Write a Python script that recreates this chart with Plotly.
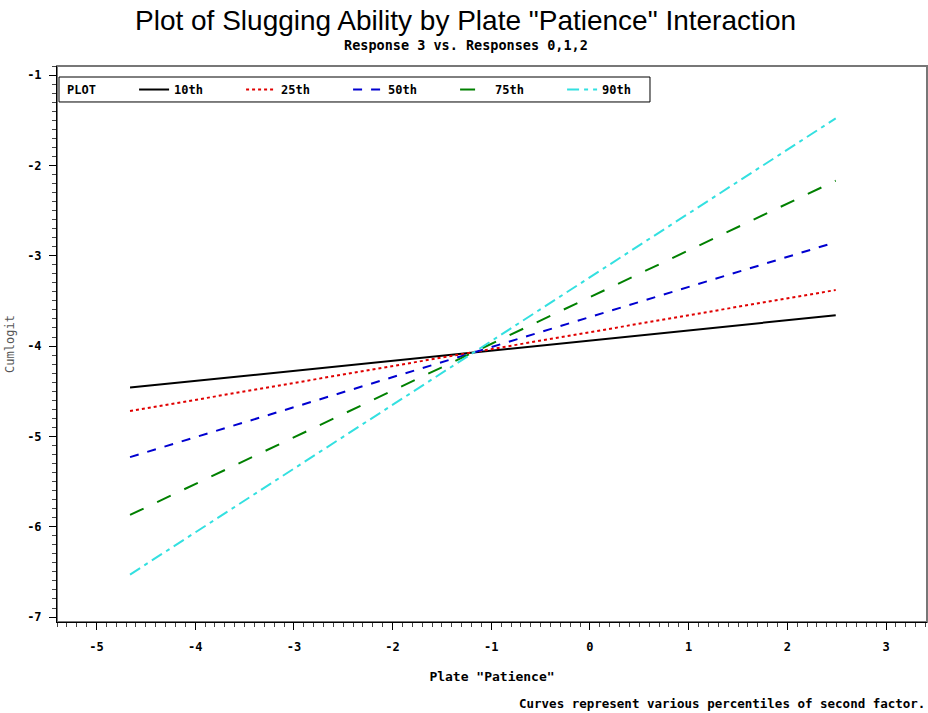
import plotly.graph_objects as go

# Data
percentiles = ["10th", "25th", "50th", "75th", "90th"]
x_ends = [-4.66, 2.49]
y_10th = [-4.46, -3.66]
y_25th = [-4.72, -3.38]
y_50th = [-5.23, -2.85]
y_75th = [-5.87, -2.17]
y_90th = [-6.53, -1.48]
series_y = [y_10th, y_25th, y_50th, y_75th, y_90th]

colors = ["#000000", "#e00000", "#0000d0", "#008000", "#33e0e0"]
dashes = ["solid", "dot", "dash", "longdash", "12px,5px,4px,5px"]

xticks = [-5, -4, -3, -2, -1, 0, 1, 2, 3]
yticks = [-1, -2, -3, -4, -5, -6, -7]

mono = "DejaVu Sans Mono"

fig = go.Figure()
for name, ys, c, d in zip(percentiles, series_y, colors, dashes):
    fig.add_trace(go.Scatter(
        x=x_ends, y=ys, mode="lines", name=f"<b>{name}</b>",
        line=dict(color=c, width=2, dash=d),
    ))

axis_common = dict(
    showgrid=False, zeroline=False, showline=True, linecolor="black", linewidth=1,
    ticks="outside", ticklen=7, tickcolor="black", automargin=False,
    tickfont=dict(family=mono, size=12, color="black"),
    minor=dict(ticks="outside", ticklen=4, dtick=0.1, tickcolor="#444"),
)

fig.update_layout(
    width=928, height=713,
    paper_bgcolor="white", plot_bgcolor="white",
    margin=dict(l=57, r=1, t=66, b=91, autoexpand=False),
    showlegend=True,
    legend=dict(
        orientation="h", x=0.0886, y=0.9577, xanchor="left", yanchor="middle",
        borderwidth=0, bgcolor="rgba(0,0,0,0)",
        font=dict(family=mono, size=12, color="black"),
        entrywidth=62, entrywidthmode="pixels",
        tracegroupgap=0,
    ),
    xaxis=dict(
        range=[-5.4, 3.415], tickvals=xticks, ticktext=[f"<b>{t}</b>" for t in xticks],
        ticklabelstandoff=7,
        title=dict(text="<b>Plate \"Patience\"</b>", font=dict(family=mono, size=13, color="black"), standoff=18),
        **axis_common,
    ),
    yaxis=dict(
        range=[-7.055, -0.9], tickvals=yticks, ticktext=[f"<b>{t}</b>" for t in yticks],
        ticklabelstandoff=5,
        title=dict(text="Cumlogit", font=dict(family=mono, size=12, color="#555"), standoff=9),
        **axis_common,
    ),
    shapes=[
        dict(type="rect", xref="paper", yref="paper", x0=0, y0=0, x1=1, y1=1,
             line=dict(color="#777", width=2), layer="below"),
        dict(type="rect", xref="paper", yref="paper", x0=0.0023, y0=0.9353, x1=0.6816, y1=0.9802,
             line=dict(color="black", width=1), fillcolor="white", layer="below"),
    ],
    annotations=[
        dict(text="Plot of Slugging Ability by Plate \"Patience\" Interaction",
             xref="paper", yref="paper", x=0.47, y=1, yshift=46, xanchor="center", yanchor="middle",
             showarrow=False, font=dict(family="Liberation Sans", size=28, color="black")),
        dict(text="<b>Response 3 vs. Responses 0,1,2</b>",
             xref="paper", yref="paper", x=0.47, y=1, yshift=21, xanchor="center", yanchor="middle",
             showarrow=False, font=dict(family=mono, size=13.5, color="black")),
        dict(text="<b>PLOT</b>",
             xref="paper", yref="paper", x=0.009, y=0.9577, xanchor="left", yanchor="middle",
             showarrow=False, font=dict(family=mono, size=12, color="black")),
        dict(text="<b>Curves represent various percentiles of second factor.</b>",
             xref="paper", yref="paper", x=1, y=0, yshift=-81, xanchor="right", yanchor="middle",
             showarrow=False, font=dict(family=mono, size=12.5, color="black")),
    ],
)

fig.write_html("out.html", config={"displayModeBar": False},
               post_script="document.body.style.margin='0';document.body.style.overflow='hidden';")
